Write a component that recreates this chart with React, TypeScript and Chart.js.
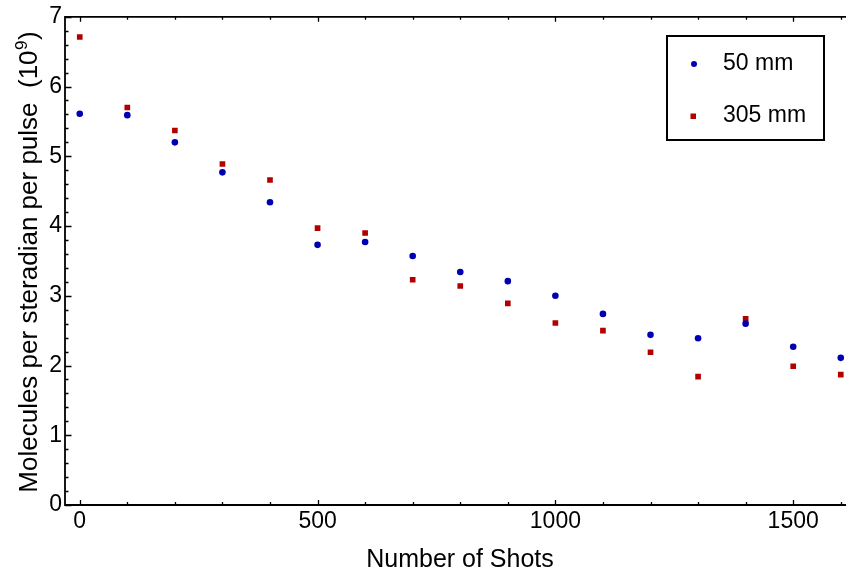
import { useEffect, useRef } from "react";
import { Chart, registerables } from "chart.js";

Chart.register(...registerables);

// ---- data ----
const shots = [0, 100, 200, 300, 400, 500, 600, 700, 800, 900, 1000, 1100, 1200, 1300, 1400, 1500, 1600];
const series50mm = [5.61, 5.59, 5.2, 4.77, 4.34, 3.73, 3.77, 3.57, 3.34, 3.21, 3.0, 2.74, 2.44, 2.39, 2.6, 2.27, 2.11];
const series305mm = [6.71, 5.7, 5.37, 4.89, 4.66, 3.97, 3.9, 3.23, 3.14, 2.89, 2.61, 2.5, 2.19, 1.84, 2.67, 1.99, 1.87];
const seriesLabels = ["50 mm", "305 mm"];
const xTickValues = [0, 500, 1000, 1500];
const yTickValues = [0, 1, 2, 3, 4, 5, 6, 7];
const xMinorStep = 100;
const yMinorStep = 0.2;
const xTitle = "Number of Shots";
const yTitleMain = "Molecules per steradian per pulse  (10";
const yTitleSup = "9";
const yTitleEnd = ")";

const FONT = '"Liberation Sans", Arial, Helvetica, sans-serif';
const BLUE = "rgb(0,0,178)";
const RED = "rgb(178,0,0)";

const decorPlugin = {
  id: "decor",
  beforeDatasetsDraw(chart: any) {
    const { ctx, chartArea: a, scales } = chart;
    const xs = scales.x;
    const ys = scales.y;
    ctx.save();
    ctx.strokeStyle = "#000";
    ctx.lineWidth = 1.8;
    ctx.beginPath();
    ctx.moveTo(a.right, a.top);
    ctx.lineTo(a.left, a.top);
    ctx.lineTo(a.left, a.bottom);
    ctx.lineTo(a.right, a.bottom);
    ctx.stroke();

    ctx.lineWidth = 1.3;
    ctx.beginPath();
    for (let v = 0; v <= 7.0001; v += yMinorStep) {
      const vv = Math.round(v * 10) / 10;
      const major = yTickValues.includes(vv);
      const py = Math.round(ys.getPixelForValue(vv)) + 0.5;
      const len = major ? 6.5 : 3.5;
      ctx.moveTo(a.left, py);
      ctx.lineTo(a.left + len, py);
    }
    for (let v = 0; v <= xs.max; v += xMinorStep) {
      const major = xTickValues.includes(v);
      const px = Math.round(xs.getPixelForValue(v)) + 0.5;
      const len = major ? 5 : 3;
      ctx.moveTo(px, a.bottom);
      ctx.lineTo(px, a.bottom - len);
      ctx.moveTo(px, a.top);
      ctx.lineTo(px, a.top + len);
    }
    ctx.stroke();
    ctx.restore();
  },
  afterDraw(chart: any) {
    const { ctx } = chart;
    ctx.save();
    ctx.fillStyle = "#000";

    // x title
    ctx.font = `25px ${FONT}`;
    ctx.textAlign = "center";
    ctx.textBaseline = "alphabetic";
    ctx.fillText(xTitle, 460, 567);

    // y title (rotated) with superscript
    const cy = 262;
    ctx.translate(37, cy);
    ctx.rotate(-Math.PI / 2);
    ctx.font = `26px ${FONT}`;
    const w1 = ctx.measureText(yTitleMain).width;
    const w3 = ctx.measureText(yTitleEnd).width;
    ctx.font = `17px ${FONT}`;
    const w2 = ctx.measureText(yTitleSup).width;
    const total = w1 + w2 + 1 + w3;
    let sx = -total / 2;
    ctx.textAlign = "left";
    ctx.font = `26px ${FONT}`;
    ctx.fillText(yTitleMain, sx, 0);
    sx += w1 + 0.5;
    ctx.font = `17px ${FONT}`;
    ctx.fillText(yTitleSup, sx, -10);
    sx += w2 + 0.5;
    ctx.font = `26px ${FONT}`;
    ctx.fillText(yTitleEnd, sx, 0);
    ctx.setTransform(1, 0, 0, 1, 0, 0);

    // legend box
    const bx = 667, by = 36, bw = 157, bh = 104;
    ctx.fillStyle = "#fff";
    ctx.fillRect(bx, by, bw, bh);
    ctx.strokeStyle = "#000";
    ctx.lineWidth = 2;
    ctx.strokeRect(bx, by, bw, bh);

    const rows = [
      { label: seriesLabels[0], color: BLUE, style: "circle", y: 64 },
      { label: seriesLabels[1], color: RED, style: "rect", y: 116 },
    ];
    for (const r of rows) {
      ctx.fillStyle = r.color;
      if (r.style === "circle") {
        ctx.beginPath();
        ctx.arc(694, r.y, 3, 0, Math.PI * 2);
        ctx.fill();
      } else {
        ctx.fillRect(690.5, r.y - 2.5, 5.5, 5.5);
      }
      ctx.fillStyle = "#000";
      ctx.font = `23px ${FONT}`;
      ctx.textAlign = "left";
      ctx.textBaseline = "middle";
      ctx.fillText(r.label, 723, r.y);
    }
    ctx.restore();
  },
};

export default function App() {
  const canvasRef = useRef<HTMLCanvasElement | null>(null);

  useEffect(() => {
    const canvas = canvasRef.current;
    if (!canvas) return;
    const chart = new Chart(canvas, {
      type: "scatter",
      data: {
        datasets: [
          {
            label: seriesLabels[0],
            data: shots.map((s, i) => ({ x: s, y: series50mm[i] })),
            backgroundColor: BLUE,
            borderColor: BLUE,
            pointStyle: "circle",
            pointRadius: 3.3,
            pointBorderWidth: 0,
          },
          {
            label: seriesLabels[1],
            data: shots.map((s, i) => ({ x: s, y: series305mm[i] })),
            backgroundColor: RED,
            borderColor: RED,
            pointStyle: "rect",
            pointRadius: 4,
            pointBorderWidth: 0,
          },
        ],
      },
      options: {
        animation: false,
        responsive: false,
        devicePixelRatio: 1,
        layout: { autoPadding: false, padding: { top: 15, right: 0, left: 0, bottom: 0 } },
        plugins: {
          legend: { display: false },
          tooltip: { enabled: false },
        },
        scales: {
          x: {
            type: "linear",
            min: -31,
            max: 1611,
            grid: { display: false, drawTicks: false },
            border: { display: false },
            ticks: {
              color: "#000",
              font: { family: FONT, size: 23 },
              padding: 3,
              maxRotation: 0,
              callback: (v: any) => String(v),
            },
            afterBuildTicks: (scale: any) => {
              scale.ticks = xTickValues.map((v) => ({ value: v }));
            },
            afterFit: (scale: any) => {
              scale.height = 69;
              scale.paddingLeft = 0;
              scale.paddingRight = 0;
            },
          },
          y: {
            type: "linear",
            min: 0,
            max: 7,
            grid: { display: false, drawTicks: false },
            border: { display: false },
            ticks: {
              color: "#000",
              font: { family: FONT, size: 23 },
              padding: 3,
              callback: (v: any) => String(v),
            },
            afterBuildTicks: (scale: any) => {
              scale.ticks = yTickValues.map((v) => ({ value: v }));
            },
            afterFit: (scale: any) => {
              scale.width = 65;
            },
          },
        },
      },
      plugins: [decorPlugin],
    });
    return () => chart.destroy();
  }, []);

  return (
    <div style={{ position: "absolute", left: 0, top: 0, width: 846, height: 574, background: "#fff" }}>
      <canvas ref={canvasRef} width={846} height={574} style={{ width: 846, height: 574, display: "block" }} />
    </div>
  );
}
